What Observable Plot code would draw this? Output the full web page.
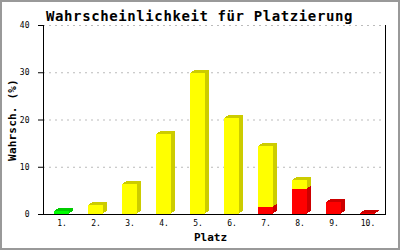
<!DOCTYPE html>
<html><head><meta charset="utf-8">
<script src="https://cdn.jsdelivr.net/npm/d3@7"></script>
<script src="https://cdn.jsdelivr.net/npm/@observablehq/plot@0.6"></script>
<style>
html,body{margin:0;padding:0;background:#fff}
#chart svg{display:block;outline:2px solid #999;outline-offset:-2px}
</style></head><body><div id="chart"></div>
<script>
const title = "Wahrscheinlichkeit für Platzierung";
const xLabel = "Platz";
const yLabel = "Wahrsch. (%)";
const places = ["1.","2.","3.","4.","5.","6.","7.","8.","9.","10."];
const green  = [0.6, 0, 0, 0, 0, 0, 0, 0, 0, 0];
const red    = [0, 0, 0, 0, 0, 0, 1.5, 5.3, 2.5, 0.2];
const yellow = [0, 1.9, 6.3, 16.9, 29.9, 20.4, 12.9, 1.9, 0, 0];
const yTicks = [0, 10, 20, 30, 40];

const frontColors = {red: "#ff0000", green: "#00ff00", yellow: "#ffff00"};
const sideColors  = {red: "#cc0000", green: "#00cc00", yellow: "#cccc00"};

const rows = [];
[["red", red], ["green", green], ["yellow", yellow]].forEach(([s, vals]) =>
  places.forEach((p, i) => rows.push({place: p, series: s, value: vals[i]})));

const mono = "DejaVu Sans Mono";
const depth = [[4, -3], [3, -2], [2, -2], [1, -1]];
const sideMarks = depth.map(([dx, dy]) =>
  Plot.barY(rows, Plot.stackY({x: "place", y: "value", z: "series",
    fill: d => sideColors[d.series], dx, dy, shapeRendering: "crispEdges"})));

const chart = Plot.plot({
  width: 400, height: 250,
  marginTop: 25, marginBottom: 36, marginLeft: 43, marginRight: 15,
  style: {fontFamily: mono, fontSize: "8px", background: "#fff"},
  x: {domain: places, paddingInner: 0.56, paddingOuter: 0.28, label: null},
  y: {domain: [0, 40], label: null},
  color: {type: "identity"},
  marks: [
    Plot.gridY(yTicks, {stroke: "#bbb", strokeOpacity: 1, strokeDasharray: "2,4"}),
    ...sideMarks,
    Plot.barY(rows, Plot.stackY({x: "place", y: "value", z: "series",
      fill: d => frontColors[d.series], shapeRendering: "crispEdges"})),
    Plot.axisY(yTicks, {tickSize: 5, tickPadding: 9, label: null, fontSize: 8}),
    Plot.axisX({tickSize: 0, tickPadding: 6, label: null, fontSize: 8}),
    Plot.frame({anchor: "left", stroke: "#000"}),
    Plot.frame({anchor: "right", stroke: "#000"}),
    Plot.frame({anchor: "bottom", stroke: "#000"}),
    Plot.text([title], {text: d => d, frameAnchor: "top", dx: -15, dy: -14,
      textAnchor: "middle", fontSize: 14, fontWeight: "bold", fill: "#000"}),
    Plot.text([yLabel], {text: d => d, frameAnchor: "left", dx: -31, rotate: -90,
      textAnchor: "middle", fontSize: 11, fontWeight: "bold", fill: "#000"}),
    Plot.text([xLabel], {text: d => d, frameAnchor: "bottom", dx: -4, dy: 26,
      textAnchor: "middle", fontSize: 11, fontWeight: "bold", fill: "#000"})
  ]
});
d3.select(chart).selectAll("text").filter(function(){ return this.textContent === title; })
  .style("letter-spacing", "0.6px");
d3.select(chart).selectAll("text").filter(function(){ return this.textContent === yLabel; })
  .style("letter-spacing", "0.2px");
document.getElementById("chart").append(chart);
</script></body></html>
